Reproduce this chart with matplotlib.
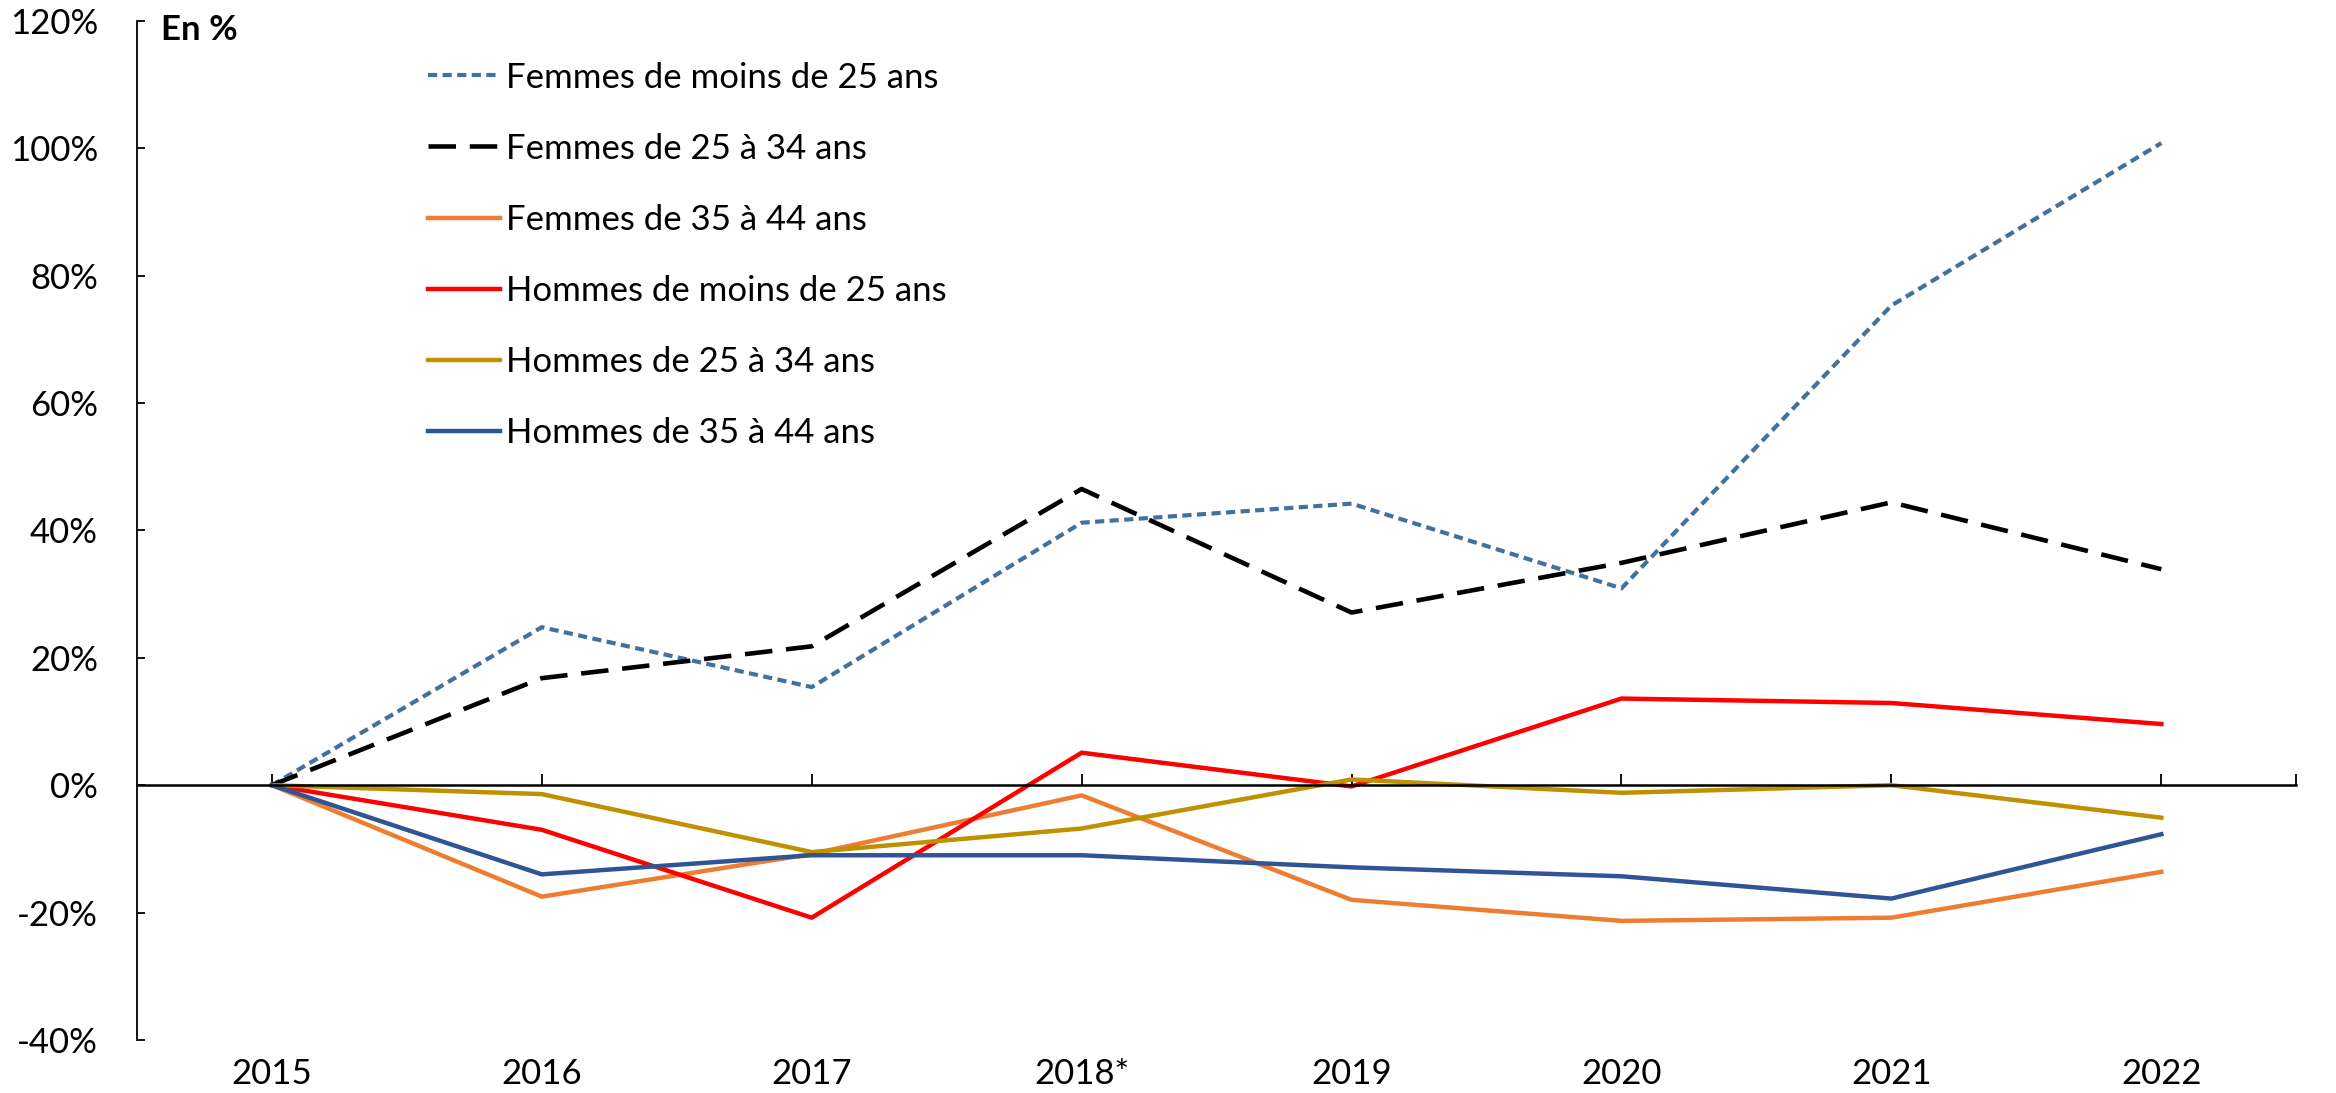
import matplotlib
matplotlib.use('Agg')
import matplotlib.pyplot as plt

plt.rcParams['font.family'] = ['Lato', 'DejaVu Sans']

years = ['2015', '2016', '2017', '2018*', '2019', '2020', '2021', '2022']

femmes_moins_25 = [0, 24.8, 15.4, 41.2, 44.2, 30.9, 75.3, 100.8]
femmes_25_34 = [0, 16.8, 21.8, 46.5, 27.1, 34.9, 44.4, 33.9]
femmes_35_44 = [0, -17.5, -10.8, -1.6, -18.0, -21.3, -20.8, -13.6]
hommes_moins_25 = [0, -7.0, -20.8, 5.1, -0.2, 13.6, 12.9, 9.6]
hommes_25_34 = [0, -1.4, -10.5, -6.8, 0.9, -1.2, 0.0, -5.1]
hommes_35_44 = [0, -14.0, -11.0, -11.0, -12.9, -14.3, -17.8, -7.7]

y_ticks = [-40, -20, 0, 20, 40, 60, 80, 100, 120]
y_labels = ['-40%', '-20%', '0%', '20%', '40%', '60%', '80%', '100%', '120%']

fig = plt.figure(figsize=(23.36, 10.93), dpi=100)
ax = fig.add_axes([0.0586, 0.0485, 0.9244, 0.9325])

x = range(len(years))

# series, in the same order as the legend
ax.plot(x, femmes_moins_25, color='#41719C', lw=3.0, dashes=(2.2, 1.3),
        label='Femmes de moins de 25 ans')
ax.plot(x, femmes_25_34, color='black', lw=3.3, dashes=(6, 3),
        label='Femmes de 25 à 34 ans')
ax.plot(x, femmes_35_44, color='#ED7D31', lw=3.2, label='Femmes de 35 à 44 ans')
ax.plot(x, hommes_moins_25, color='#FF0000', lw=3.2, label='Hommes de moins de 25 ans')
ax.plot(x, hommes_25_34, color='#BF9000', lw=3.2, label='Hommes de 25 à 34 ans')
ax.plot(x, hommes_35_44, color='#2F5597', lw=3.2, label='Hommes de 35 à 44 ans')

ax.set_xlim(-0.5, 7.5)
ax.set_ylim(-40, 120)

# y axis
ax.set_yticks(y_ticks)
ax.set_yticklabels(y_labels)
ax.tick_params(axis='y', direction='in', length=6, width=1.3, pad=28, labelsize=25)
ax.spines['left'].set_linewidth(1.3)

# x axis line at zero with ticks, labels kept at the bottom
ax.spines['top'].set_visible(False)
ax.spines['right'].set_visible(False)
ax.spines['bottom'].set_position(('data', 0))
ax.spines['bottom'].set_linewidth(1.8)
ax.set_xticks(list(x) + [7.5])
ax.tick_params(axis='x', direction='in', length=8, width=1.3, labelbottom=False)

sec = ax.secondary_xaxis(0)
sec.set_xticks(list(x))
sec.set_xticklabels(years)
sec.spines['bottom'].set_visible(False)
sec.tick_params(axis='x', length=0, pad=13, labelsize=25)

ax.text(0.011, 0.991, 'En %', transform=ax.transAxes, fontsize=25,
        fontweight='bold', va='center', ha='left')

ax.legend(loc='upper left', bbox_to_anchor=(0.1347, 0.96), frameon=False,
          fontsize=25, handlelength=2.07, handletextpad=0.18, labelspacing=1.125,
          borderpad=0, borderaxespad=0)

fig.savefig('out.png', dpi=100)
